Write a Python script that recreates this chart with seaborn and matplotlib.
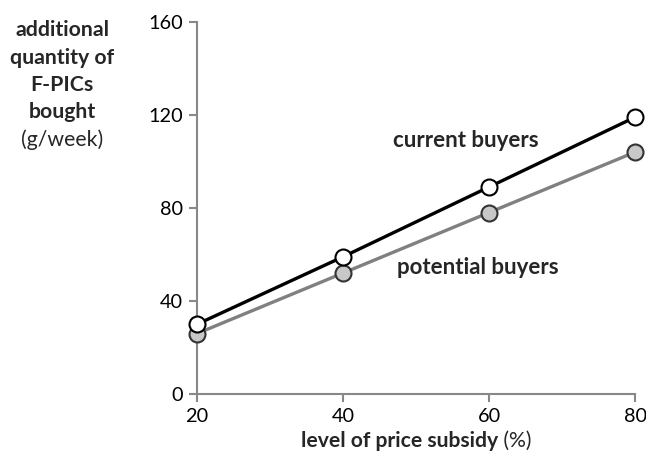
import matplotlib
matplotlib.use("Agg")
import matplotlib.pyplot as plt
import seaborn as sns
import pandas as pd

subsidy = [20, 40, 60, 80]
current_buyers = [30, 59, 89, 119]
potential_buyers = [26, 52, 78, 104]
y_ticks = [0, 40, 80, 120, 160]
x_ticks = [20, 40, 60, 80]

sns.set_theme(style="white")
plt.rcParams['font.family'] = ['Lato', 'DejaVu Sans']

df = pd.DataFrame({
    "subsidy": subsidy * 2,
    "qty": current_buyers + potential_buyers,
    "group": ["current buyers"] * 4 + ["potential buyers"] * 4,
})

fig = plt.figure(figsize=(6.46, 4.55), dpi=100)
ax = fig.add_axes([0.305, 0.134, 0.678, 0.818])

sns.lineplot(data=df[df.group == "potential buyers"], x="subsidy", y="qty", ax=ax,
             color="#808080", linewidth=2.4, marker="o", markersize=11.5,
             markerfacecolor="#c8c8c8", markeredgecolor="#333333", markeredgewidth=1.5,
             zorder=3)
sns.lineplot(data=df[df.group == "current buyers"], x="subsidy", y="qty", ax=ax,
             color="black", linewidth=2.4, marker="o", markersize=11.5,
             markerfacecolor="white", markeredgecolor="black", markeredgewidth=1.5,
             zorder=4)

ax.set_xlim(20, 80)
ax.set_ylim(0, 160)
ax.set_xticks(x_ticks)
ax.set_yticks(y_ticks)
ax.set_xlabel("")
ax.set_ylabel("")
for s in ["top", "right"]:
    ax.spines[s].set_visible(False)
for s in ["left", "bottom"]:
    ax.spines[s].set_color("#888888")
    ax.spines[s].set_linewidth(1.5)
ax.tick_params(axis="both", which="both", direction="out", length=6, width=1.5,
               color="#888888", labelsize=14.3, labelcolor="black", pad=4,
               bottom=True, left=True)
for sp in ax.spines.values():
    sp.set_clip_on(False)
for ln in ax.lines:
    ln.set_clip_on(False)

ax.text(46.8, 109, "current buyers", fontsize=16, fontweight="bold", va="center", ha="left")
ax.text(47.4, 54.5, "potential buyers", fontsize=16, fontweight="bold", va="center", ha="left")

# y label block
ylines = [("additional", "bold", 30), ("quantity of", "bold", 58), ("F-PICs", "bold", 85),
          ("bought", "bold", 112), ("(g/week)", "normal", 140)]
for txt, w, ypx in ylines:
    fig.text(62 / 646, 1 - ypx / 455, txt, fontsize=15.3, fontweight=w, ha="center", va="center")

# x label: bold part + normal part
fig.canvas.draw()
r = fig.canvas.get_renderer()
t1 = fig.text(0, 0, "level of price subsidy", fontsize=15.2, fontweight="bold", va="center")
t2 = fig.text(0, 0, " (%)", fontsize=15.2, fontweight="normal", va="center")
w1 = t1.get_window_extent(r).width / fig.bbox.width
w2 = t2.get_window_extent(r).width / fig.bbox.width
cx = 416 / 646
yx = 1 - 441 / 455
x0 = cx - (w1 + w2) / 2
t1.set_position((x0, yx))
t2.set_position((x0 + w1, yx))

fig.savefig("out.png", dpi=100)
